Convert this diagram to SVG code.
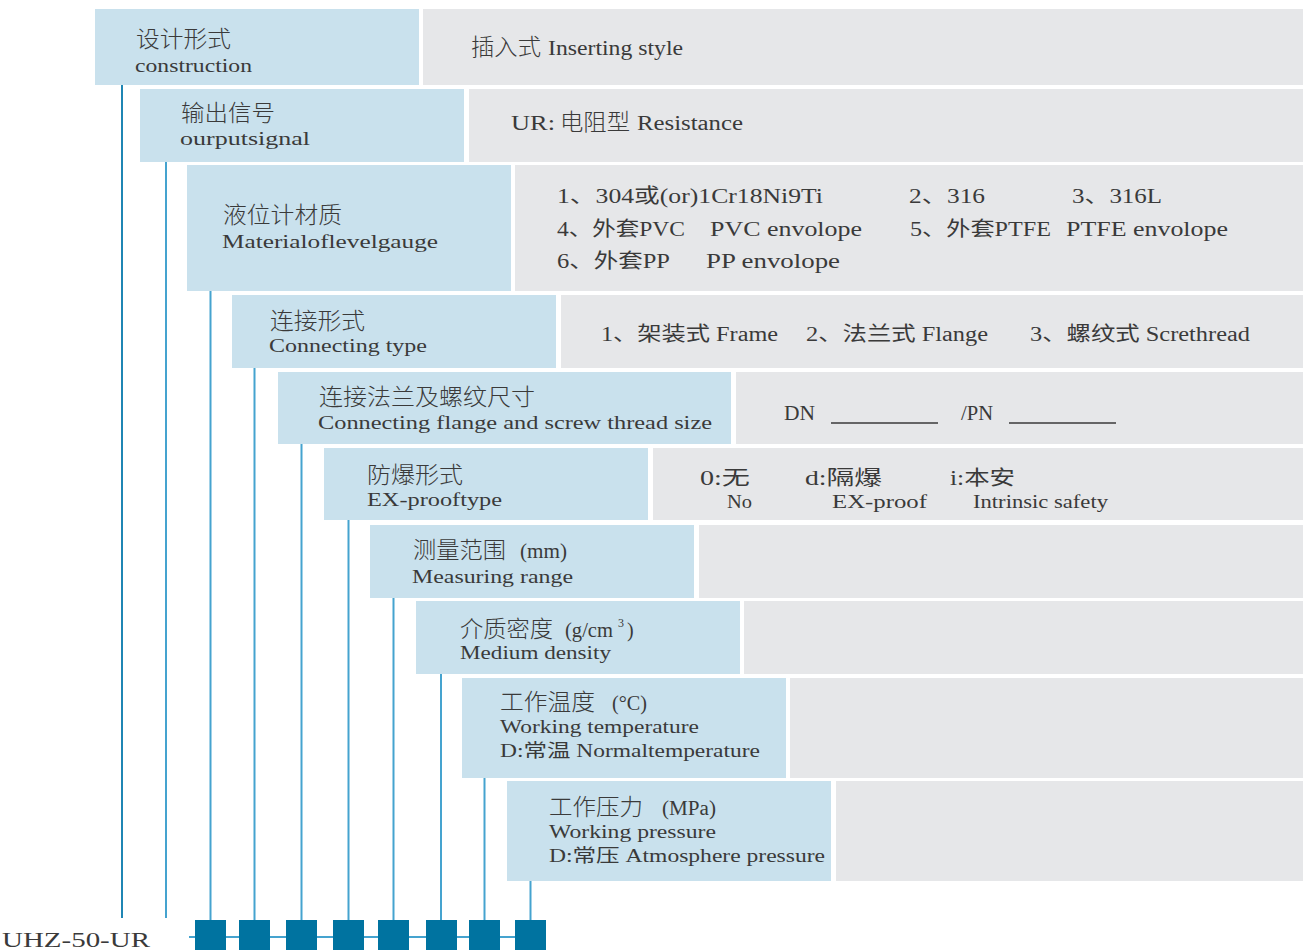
<svg xmlns="http://www.w3.org/2000/svg" width="1308" height="952" viewBox="0 0 1308 952">
<style>
.bg{fill:#ffffff}
.bl{fill:#c9e1ed}
.gr{fill:#e6e7e9}
.t{font-family:"Liberation Serif","Noto Sans CJK SC",serif;fill:#3a3a3a}
.cn{font-family:"Noto Sans CJK SC","Liberation Serif",sans-serif;font-weight:300;fill:#3a3a3a;font-size:23px}
.en{font-size:18px}
.g{font-size:20px}
.ln{stroke:#45a3cf;stroke-width:2;fill:none}
.ln0{stroke:#1f86b4;stroke-width:2;fill:none}
.sq{fill:#0073a0}
.ul{stroke:#3a3a3a;stroke-width:1.5}
</style>
<rect class="bg" x="0" y="0" width="1308" height="952"/>
<g id="connectors">
<line class="ln0" x1="122" y1="84" x2="122" y2="918"/>
<line class="ln" x1="166" y1="161" x2="166" y2="918"/>
<line class="ln" x1="210.5" y1="291" x2="210.5" y2="920"/>
<line class="ln" x1="254.5" y1="367" x2="254.5" y2="920"/>
<line class="ln" x1="301.5" y1="444" x2="301.5" y2="920"/>
<line class="ln" x1="348.5" y1="520" x2="348.5" y2="920"/>
<line class="ln" x1="393.5" y1="597" x2="393.5" y2="920"/>
<line class="ln" x1="441" y1="673" x2="441" y2="920"/>
<line class="ln" x1="484.5" y1="777" x2="484.5" y2="920"/>
<line class="ln" x1="530.5" y1="880" x2="530.5" y2="920"/>
<line class="ln" x1="189" y1="937" x2="546" y2="937"/>
</g>
<g id="code">
<text class="t" x="2" y="947" font-size="21" textLength="148" lengthAdjust="spacingAndGlyphs">UHZ-50-UR</text>
<rect class="sq" x="195" y="920" width="31" height="30"/>
<rect class="sq" x="239" y="920" width="31" height="30"/>
<rect class="sq" x="286" y="920" width="31" height="30"/>
<rect class="sq" x="333" y="920" width="31" height="30"/>
<rect class="sq" x="378" y="920" width="31" height="30"/>
<rect class="sq" x="426" y="920" width="31" height="30"/>
<rect class="sq" x="469" y="920" width="31" height="30"/>
<rect class="sq" x="515" y="920" width="31" height="30"/>
</g>
<g id="row1">
<rect class="bl" x="95" y="9" width="324" height="76"/>
<rect class="gr" x="423" y="9" width="880" height="76"/>
<text class="cn" x="136" y="47" textLength="95" lengthAdjust="spacingAndGlyphs">设计形式</text>
<text class="t en" x="135" y="72" textLength="117" lengthAdjust="spacingAndGlyphs">construction</text>
<text class="cn" x="471" y="55" font-size="22" textLength="70" lengthAdjust="spacingAndGlyphs">插入式</text>
<text class="t g" x="548" y="55" textLength="135" lengthAdjust="spacingAndGlyphs">Inserting style</text>
</g>
<g id="row2">
<rect class="bl" x="140" y="89" width="324" height="73"/>
<rect class="gr" x="469" y="89" width="834" height="73"/>
<text class="cn" x="181" y="121" textLength="94" lengthAdjust="spacingAndGlyphs">输出信号</text>
<text class="t en" x="180" y="145" textLength="130" lengthAdjust="spacingAndGlyphs">ourputsignal</text>
<text class="t g" x="511" y="130" textLength="44" lengthAdjust="spacingAndGlyphs">UR:</text>
<text class="cn" x="560" y="130" font-size="22" textLength="70" lengthAdjust="spacingAndGlyphs">电阻型</text>
<text class="t g" x="637" y="130" textLength="106" lengthAdjust="spacingAndGlyphs">Resistance</text>
</g>
<g id="row3">
<rect class="bl" x="187" y="165" width="324" height="126"/>
<rect class="gr" x="515" y="165" width="788" height="126"/>
<text class="cn" x="223" y="223" textLength="119" lengthAdjust="spacingAndGlyphs">液位计材质</text>
<text class="t en" x="222" y="248" textLength="216" lengthAdjust="spacingAndGlyphs">Materialoflevelgauge</text>
<text class="t g" x="557" y="203" textLength="266" lengthAdjust="spacingAndGlyphs">1、304或(or)1Cr18Ni9Ti</text>
<text class="t g" x="909" y="203" textLength="76" lengthAdjust="spacingAndGlyphs">2、316</text>
<text class="t g" x="1072" y="203" textLength="90" lengthAdjust="spacingAndGlyphs">3、316L</text>
<text class="t g" x="557" y="236" textLength="128" lengthAdjust="spacingAndGlyphs">4、外套PVC</text>
<text class="t g" x="710" y="236" textLength="152" lengthAdjust="spacingAndGlyphs">PVC envolope</text>
<text class="t g" x="910" y="236" textLength="141" lengthAdjust="spacingAndGlyphs">5、外套PTFE</text>
<text class="t g" x="1066" y="236" textLength="162" lengthAdjust="spacingAndGlyphs">PTFE envolope</text>
<text class="t g" x="557" y="268" textLength="113" lengthAdjust="spacingAndGlyphs">6、外套PP</text>
<text class="t g" x="706" y="268" textLength="134" lengthAdjust="spacingAndGlyphs">PP envolope</text>
</g>
<g id="row4">
<rect class="bl" x="232" y="295" width="324" height="73"/>
<rect class="gr" x="561" y="295" width="742" height="73"/>
<text class="cn" x="270" y="329" textLength="95" lengthAdjust="spacingAndGlyphs">连接形式</text>
<text class="t en" x="269" y="352" textLength="158" lengthAdjust="spacingAndGlyphs">Connecting type</text>
<text class="t g" x="601" y="341" textLength="177" lengthAdjust="spacingAndGlyphs">1、架装式 Frame</text>
<text class="t g" x="806" y="341" textLength="182" lengthAdjust="spacingAndGlyphs">2、法兰式 Flange</text>
<text class="t g" x="1030" y="341" textLength="220" lengthAdjust="spacingAndGlyphs">3、螺纹式 Screthread</text>
</g>
<g id="row5">
<rect class="bl" x="278" y="372" width="453" height="72"/>
<rect class="gr" x="736" y="372" width="567" height="72"/>
<text class="cn" x="319" y="405" textLength="216" lengthAdjust="spacingAndGlyphs">连接法兰及螺纹尺寸</text>
<text class="t en" x="318" y="429" textLength="394" lengthAdjust="spacingAndGlyphs">Connecting flange and screw thread size</text>
<text class="t g" x="784" y="420" textLength="31" lengthAdjust="spacingAndGlyphs">DN</text>
<line class="ul" x1="831" y1="423" x2="938" y2="423"/>
<text class="t g" x="961" y="420" textLength="32" lengthAdjust="spacingAndGlyphs">/PN</text>
<line class="ul" x1="1009" y1="423" x2="1116" y2="423"/>
</g>
<g id="row6">
<rect class="bl" x="324" y="448" width="324" height="72"/>
<rect class="gr" x="653" y="448" width="650" height="72"/>
<text class="cn" x="367" y="483" textLength="96" lengthAdjust="spacingAndGlyphs">防爆形式</text>
<text class="t en" x="367" y="506" textLength="135" lengthAdjust="spacingAndGlyphs">EX-prooftype</text>
<text class="t g" x="700" y="485" textLength="50" lengthAdjust="spacingAndGlyphs">0:无</text>
<text class="t g" x="805" y="485" textLength="77" lengthAdjust="spacingAndGlyphs">d:隔爆</text>
<text class="t g" x="950" y="485" textLength="65" lengthAdjust="spacingAndGlyphs">i:本安</text>
<text class="t en" x="727" y="508" textLength="25" lengthAdjust="spacingAndGlyphs">No</text>
<text class="t en" x="832" y="508" textLength="95" lengthAdjust="spacingAndGlyphs">EX-proof</text>
<text class="t en" x="973" y="508" textLength="135" lengthAdjust="spacingAndGlyphs">Intrinsic safety</text>
</g>
<g id="row7">
<rect class="bl" x="370" y="525" width="324" height="73"/>
<rect class="gr" x="699" y="525" width="604" height="73"/>
<text class="cn" x="413" y="558" textLength="93" lengthAdjust="spacingAndGlyphs">测量范围</text>
<text class="t g" x="520" y="558" textLength="47" lengthAdjust="spacingAndGlyphs">(mm)</text>
<text class="t en" x="412" y="583" textLength="161" lengthAdjust="spacingAndGlyphs">Measuring range</text>
</g>
<g id="row8">
<rect class="bl" x="416" y="601" width="324" height="73"/>
<rect class="gr" x="744" y="601" width="559" height="73"/>
<text class="cn" x="460" y="637" textLength="93" lengthAdjust="spacingAndGlyphs">介质密度</text>
<text class="t g" x="565" y="637" textLength="48" lengthAdjust="spacingAndGlyphs">(g/cm</text>
<text class="t" x="618" y="627" font-size="12">3</text>
<text class="t g" x="627" y="637">)</text>
<text class="t en" x="460" y="659" textLength="151" lengthAdjust="spacingAndGlyphs">Medium density</text>
</g>
<g id="row9">
<rect class="bl" x="462" y="678" width="324" height="100"/>
<rect class="gr" x="790" y="678" width="513" height="100"/>
<text class="cn" x="500" y="710" textLength="95" lengthAdjust="spacingAndGlyphs">工作温度</text>
<text class="t g" x="612" y="710" textLength="35" lengthAdjust="spacingAndGlyphs">(°C)</text>
<text class="t en" x="500" y="733" textLength="199" lengthAdjust="spacingAndGlyphs">Working temperature</text>
<text class="t en" x="500" y="757" textLength="260" lengthAdjust="spacingAndGlyphs">D:常温 Normaltemperature</text>
</g>
<g id="row10">
<rect class="bl" x="507" y="781" width="324" height="100"/>
<rect class="gr" x="836" y="781" width="467" height="100"/>
<text class="cn" x="549" y="815" textLength="94" lengthAdjust="spacingAndGlyphs">工作压力</text>
<text class="t g" x="662" y="815" textLength="54" lengthAdjust="spacingAndGlyphs">(MPa)</text>
<text class="t en" x="549" y="838" textLength="167" lengthAdjust="spacingAndGlyphs">Working pressure</text>
<text class="t en" x="549" y="862" textLength="276" lengthAdjust="spacingAndGlyphs">D:常压 Atmosphere pressure</text>
</g>
</svg>
